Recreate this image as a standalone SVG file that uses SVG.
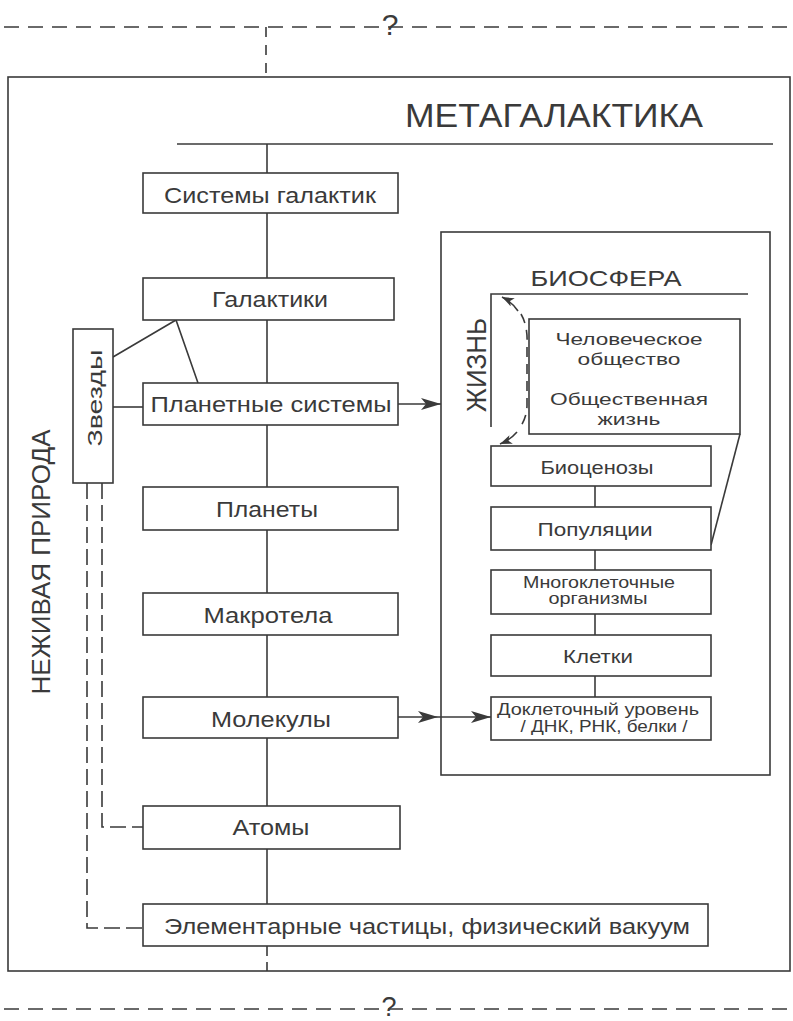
<svg xmlns="http://www.w3.org/2000/svg" width="793" height="1021" viewBox="0 0 793 1021">
<style>
.ln{stroke:#3a3a3a;stroke-width:1.6;fill:none}
.dash{stroke:#3a3a3a;stroke-width:1.6;fill:none;stroke-dasharray:15 9}
.box{stroke:#3a3a3a;stroke-width:1.6;fill:#fff}
text{font-family:"Liberation Sans",Arial,sans-serif;fill:#3a3a3a;text-anchor:middle}
.t{font-size:22px}
.b{font-size:19px}
.m{font-size:17px}
.s{font-size:16px}
</style>
<defs>
<marker id="ah" markerUnits="userSpaceOnUse" markerWidth="22" markerHeight="14" refX="20" refY="6" orient="auto">
<path d="M0,0 L20,6 L0,12 L5,6 z" fill="#3a3a3a"/>
</marker>
<marker id="ahs" markerUnits="userSpaceOnUse" markerWidth="14" markerHeight="10" refX="12" refY="4.5" orient="auto">
<path d="M0,0 L12,4.5 L0,9 L3,4.5 z" fill="#3a3a3a"/>
</marker>
</defs>
<rect width="793" height="1021" fill="#fff"/>

<g id="frame">
<line class="dash" x1="4" y1="27" x2="793" y2="27"/>
<text x="390" y="35" style="font-size:30px">?</text>
<line class="dash" x1="4" y1="1009" x2="793" y2="1009"/>
<text x="389" y="1016" style="font-size:27px">?</text>
<rect class="ln" x="8" y="77" width="782" height="894"/>
<line class="ln" x1="177" y1="144" x2="773" y2="144"/>
<text x="554" y="127" style="font-size:33px" textLength="298" lengthAdjust="spacingAndGlyphs">МЕТАГАЛАКТИКА</text>
<text transform="translate(50,562) rotate(-90)" style="font-size:25px" textLength="265" lengthAdjust="spacingAndGlyphs">НЕЖИВАЯ ПРИРОДА</text>
</g>

<g id="connectors">
<line class="dash" x1="266" y1="27" x2="266" y2="77" style="stroke-dasharray:10 8"/>
<line class="ln" x1="267" y1="144" x2="267" y2="904"/>
<line class="dash" x1="267" y1="946" x2="267" y2="971" style="stroke-dasharray:10 6"/>
<polyline class="ln" points="113,357 176,320 198,383"/>
<line class="ln" x1="113" y1="407" x2="143" y2="407"/>
<polyline class="dash" points="102,483 102,827 143,827" style="stroke-dasharray:16 6"/>
<polyline class="dash" points="87,483 87,928 143,928" style="stroke-dasharray:16 6"/>
<line class="ln" x1="398" y1="404" x2="441" y2="404" marker-end="url(#ah)"/>
<path class="ln" d="M398,717 L438,717 L491,717" marker-mid="url(#ah)" marker-end="url(#ah)"/>
<line class="ln" x1="595" y1="486" x2="595" y2="697"/>
<line class="ln" x1="740" y1="434" x2="711" y2="545"/>
<path class="dash" d="M521,314 Q528,326 527,345 L527,405 Q527,418 519,429" style="stroke-dasharray:10 7"/>
<path class="ln" d="M518,311 Q512,302 502,297" marker-end="url(#ahs)"/>
<path class="ln" d="M517,432 Q510,440 500,444" marker-end="url(#ahs)"/>
</g>

<g id="n-systems"><rect class="box" x="143" y="173" width="255" height="40"/><text class="t" x="270" y="203" textLength="212" lengthAdjust="spacingAndGlyphs">Системы галактик</text></g>
<g id="n-galaxies"><rect class="box" x="143" y="278" width="251" height="42"/><text class="t" x="270" y="307" textLength="116" lengthAdjust="spacingAndGlyphs">Галактики</text></g>
<g id="n-planetsys"><rect class="box" x="143" y="383" width="255" height="42"/><text class="t" x="271" y="412" textLength="241" lengthAdjust="spacingAndGlyphs">Планетные системы</text></g>
<g id="n-planets"><rect class="box" x="143" y="487" width="255" height="43"/><text class="t" x="267" y="517" textLength="102" lengthAdjust="spacingAndGlyphs">Планеты</text></g>
<g id="n-macro"><rect class="box" x="143" y="593" width="255" height="42"/><text class="t" x="268" y="623" textLength="129" lengthAdjust="spacingAndGlyphs">Макротела</text></g>
<g id="n-molecules"><rect class="box" x="143" y="697" width="255" height="41"/><text class="t" x="271" y="727" textLength="120" lengthAdjust="spacingAndGlyphs">Молекулы</text></g>
<g id="n-atoms"><rect class="box" x="143" y="806" width="257" height="43"/><text class="t" x="271" y="835" textLength="77" lengthAdjust="spacingAndGlyphs">Атомы</text></g>
<g id="n-elementary"><rect class="box" x="143" y="904" width="565" height="42"/><text class="t" x="427" y="934" textLength="526" lengthAdjust="spacingAndGlyphs">Элементарные частицы, физический вакуум</text></g>
<g id="n-stars"><rect class="box" x="73" y="329" width="40" height="154"/><text class="t" transform="translate(102,398) rotate(-90)" style="font-size:21px" textLength="97" lengthAdjust="spacingAndGlyphs">Звезды</text></g>

<g id="n-biosphere">
<rect class="ln" x="441" y="232" width="329" height="543"/>
<text x="606" y="286" style="font-size:22px" textLength="151" lengthAdjust="spacingAndGlyphs">БИОСФЕРА</text>
<polyline class="ln" points="748,294 491,294 491,427"/>
<text transform="translate(486,365) rotate(-90)" style="font-size:28px" textLength="94" lengthAdjust="spacingAndGlyphs">ЖИЗНЬ</text>
</g>
<g id="n-society"><rect class="box" x="529" y="319" width="211" height="115"/>
<text class="m" x="629" y="345" textLength="147" lengthAdjust="spacingAndGlyphs">Человеческое</text>
<text class="m" x="629" y="365" textLength="103" lengthAdjust="spacingAndGlyphs">общество</text>
<text class="m" x="629" y="405" textLength="158" lengthAdjust="spacingAndGlyphs">Общественная</text>
<text class="m" x="629" y="425" textLength="63" lengthAdjust="spacingAndGlyphs">жизнь</text>
</g>
<g id="n-biocenoses"><rect class="box" x="491" y="446" width="220" height="40"/><text class="b" x="597" y="474" textLength="113" lengthAdjust="spacingAndGlyphs">Биоценозы</text></g>
<g id="n-populations"><rect class="box" x="491" y="507" width="220" height="43"/><text class="b" x="595" y="536" textLength="115" lengthAdjust="spacingAndGlyphs">Популяции</text></g>
<g id="n-multicell"><rect class="box" x="491" y="570" width="220" height="44"/>
<text class="s" x="599" y="588" textLength="152" lengthAdjust="spacingAndGlyphs">Многоклеточные</text>
<text class="s" x="598" y="604" textLength="99" lengthAdjust="spacingAndGlyphs">организмы</text></g>
<g id="n-cells"><rect class="box" x="491" y="635" width="220" height="41"/><text class="b" x="598" y="663" textLength="70" lengthAdjust="spacingAndGlyphs">Клетки</text></g>
<g id="n-precell"><rect class="box" x="491" y="697" width="220" height="43"/>
<text class="s" x="598" y="715" textLength="202" lengthAdjust="spacingAndGlyphs">Доклеточный уровень</text>
<text class="s" x="604" y="732" textLength="167" lengthAdjust="spacingAndGlyphs">/ ДНК, РНК, белки /</text></g>
</svg>
